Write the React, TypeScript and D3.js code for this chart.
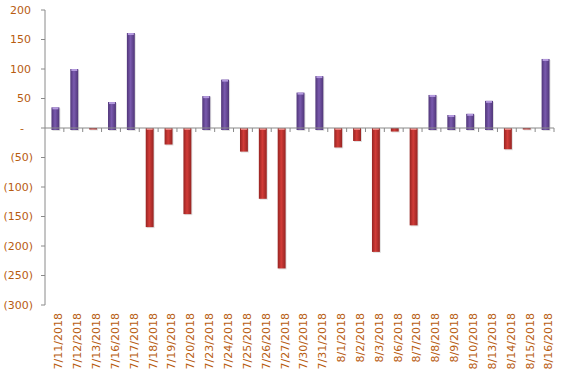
import React from "react";
import * as d3 from "d3";

const categories = [
  "7/11/2018", "7/12/2018", "7/13/2018", "7/16/2018", "7/17/2018", "7/18/2018",
  "7/19/2018", "7/20/2018", "7/23/2018", "7/24/2018", "7/25/2018", "7/26/2018",
  "7/27/2018", "7/30/2018", "7/31/2018", "8/1/2018", "8/2/2018", "8/3/2018",
  "8/6/2018", "8/7/2018", "8/8/2018", "8/9/2018", "8/10/2018", "8/13/2018",
  "8/14/2018", "8/15/2018", "8/16/2018",
];
const values = [
  35, 100, -2, 44, 161, -168, -28, -146, 54, 82, -40, -120, -238, 60, 88,
  -33, -22, -210, -6, -165, 56, 22, 24, 46, -36, -2, 117,
];
const yTicks = [200, 150, 100, 50, 0, -50, -100, -150, -200, -250, -300];

const W = 564;
const H = 375;
const left = 45;
const right = 554;
const top = 10;
const bottom = 305;
const labelColor = "#B85C10";
const axisColor = "#8a8a8a";
const font = "'DejaVu Sans', Verdana, sans-serif";

function fmt(v: number): string {
  if (v === 0) return "-";
  if (v < 0) return `(${Math.abs(v)})`;
  return `${v}`;
}

export default function App() {
  const x = d3.scaleBand<string>().domain(categories).range([left, right]).padding(0);
  const y = d3.scaleLinear().domain([-300, 200]).range([bottom, top]);
  const bw = x.bandwidth() * 0.42;
  const y0 = y(0);

  return (
    <svg
      width={W}
      height={H}
      style={{ position: "absolute", left: 0, top: 0, background: "#fff" }}
    >
      <defs>
        <linearGradient id="gPos" x1="0" x2="1" y1="0" y2="0">
          <stop offset="0%" stopColor="#4f3578" />
          <stop offset="45%" stopColor="#7a5aae" />
          <stop offset="100%" stopColor="#4f3578" />
        </linearGradient>
        <linearGradient id="gNeg" x1="0" x2="1" y1="0" y2="0">
          <stop offset="0%" stopColor="#962422" />
          <stop offset="45%" stopColor="#d23c38" />
          <stop offset="100%" stopColor="#962422" />
        </linearGradient>
      </defs>

      {/* y axis */}
      <line x1={left} x2={left} y1={top} y2={bottom} stroke={axisColor} strokeWidth={1} />
      {yTicks.map((t) => (
        <g key={t}>
          <line x1={left - 4} x2={left} y1={y(t)} y2={y(t)} stroke={axisColor} />
          <text
            x={t < 0 ? 33 : t === 0 ? 24 : 31}
            y={y(t)}
            dy="0.35em"
            textAnchor="end"
            fontFamily={font}
            fontSize={11}
            fill={labelColor}
          >
            {fmt(t)}
          </text>
        </g>
      ))}

      {/* bars */}
      {categories.map((c, i) => {
        const v = values[i];
        const cx = (x(c) as number) + x.bandwidth() / 2 + 1;
        const yt = v >= 0 ? y(v) : y0;
        const yb = v >= 0 ? y0 + 2 : y(v);
        const h = Math.max(yb - yt, 1.5);
        const pos = v >= 0;
        return (
          <g key={c}>
            <rect
              x={cx - bw / 2 + 1}
              y={yt + 1}
              width={bw}
              height={h}
              fill="#000"
              opacity={0.12}
            />
            <rect
              x={cx - bw / 2}
              y={yt}
              width={bw}
              height={h}
              fill={pos ? "url(#gPos)" : "url(#gNeg)"}
            />
            {h > 4 && (
              <rect
                x={cx - bw / 2 + 1}
                y={yt}
                width={bw - 2}
                height={2}
                fill={pos ? "#b49ade" : "#ec8580"}
              />
            )}
          </g>
        );
      })}

      {/* zero line with category ticks */}
      <line x1={left} x2={right} y1={y0} y2={y0} stroke={axisColor} strokeWidth={1} />
      {categories.map((c) => (
        <line
          key={"t" + c}
          x1={(x(c) as number) + x.bandwidth()}
          x2={(x(c) as number) + x.bandwidth()}
          y1={y0}
          y2={y0 + 4}
          stroke={axisColor}
        />
      ))}

      {/* x labels */}
      {categories.map((c) => {
        const cx = (x(c) as number) + x.bandwidth() / 2 + 4;
        return (
          <text
            key={"l" + c}
            transform={`translate(${cx},313) rotate(-90)`}
            textAnchor="end"
            dy="0.35em"
            fontFamily={font}
            fontSize={11}
            fill={labelColor}
          >
            {c}
          </text>
        );
      })}
    </svg>
  );
}
